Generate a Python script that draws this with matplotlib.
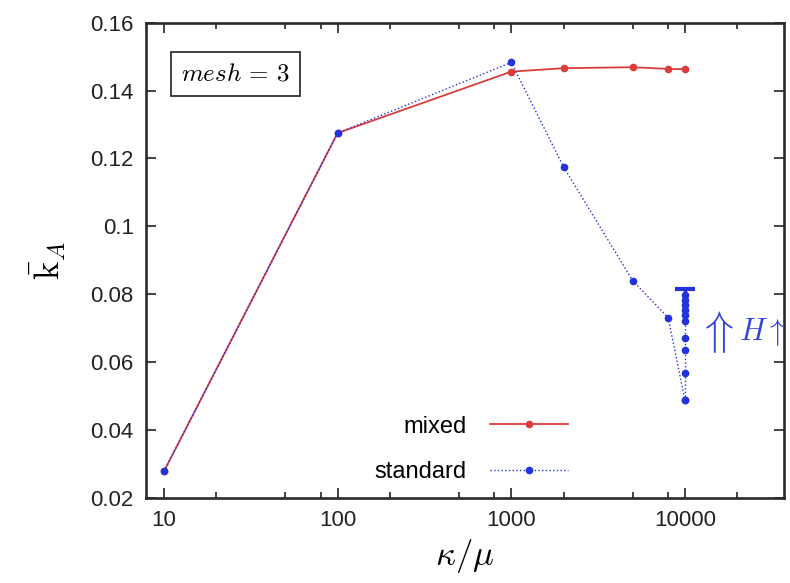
import numpy as np
import matplotlib.pyplot as plt
from matplotlib.ticker import FixedLocator, NullFormatter

plt.rcParams['font.family'] = ['Liberation Sans', 'DejaVu Sans']
plt.rcParams['mathtext.fontset'] = 'cm'

# dane
ratio = [10, 100, 1000, 2000, 5000, 8000, 10000]
k_mixed = [0.0278, 0.1275, 0.1456, 0.1466, 0.1469, 0.1464, 0.1463]
k_standard = [0.0278, 0.1275, 0.1483, 0.1175, 0.0840, 0.0731, 0.0487]

# punkty dla rosnacego H przy kappa/mu = 10000
h_ratio = [10000] * 10
k_h = [0.0487, 0.0567, 0.0636, 0.0671, 0.0720, 0.0739, 0.0754, 0.0769, 0.0784, 0.0798]
k_h_limit = 0.0816

major_ticks = [10, 100, 1000, 10000]
minor_ticks = [20, 50, 80, 200, 500, 800, 2000, 5000, 8000, 20000]
y_ticks = [0.02, 0.04, 0.06, 0.08, 0.1, 0.12, 0.14, 0.16]
y_labels = ['0.02', '0.04', '0.06', '0.08', '0.1', '0.12', '0.14', '0.16']

red = '#dc3c3c'
blue = '#2233dd'

fig = plt.figure(figsize=(7.9, 5.83), dpi=100)
ax = fig.add_axes([0.185, 0.146, 0.807, 0.815])

ax.plot(ratio, k_mixed, '-', color=red, lw=1.3, marker='o', ms=4.5, label='mixed')
ax.plot(ratio, k_standard, ':', color=blue, lw=1.0, marker='o', ms=4.5, label='standard')
ax.plot(h_ratio, k_h, ':', color=blue, lw=1.0, marker='o', ms=4.5)
ax.plot([10000], [k_h_limit], marker='_', ms=14, mew=3, color=blue, ls='none')
ax.vlines(10000, k_h[-1], k_h_limit, color=blue, lw=2.5)

ax.set_xscale('log')
ax.set_xlim(7.9, 37000)
ax.set_ylim(0.02, 0.16)
ax.xaxis.set_major_locator(FixedLocator(major_ticks))
ax.xaxis.set_minor_locator(FixedLocator(minor_ticks))
ax.xaxis.set_minor_formatter(NullFormatter())
ax.set_xticklabels([str(t) for t in major_ticks])
ax.set_yticks(y_ticks)
ax.set_yticklabels(y_labels)
ax.tick_params(which='both', direction='in', top=True, right=True,
               labelsize=16, colors='#222222', width=1.2)
ax.tick_params(which='major', length=7, pad=9)
ax.tick_params(which='minor', length=4)
for s in ax.spines.values():
    s.set_linewidth(1.9)
    s.set_color('#2a2a2a')

ax.set_xlabel(r'$\kappa/\mu$', fontsize=25, labelpad=4)
ax.set_ylabel(r'$\bar{\mathrm{k}}_A$', fontsize=25, labelpad=16)

ax.text(0.055, 0.893, r'$mesh\,=\,3$', transform=ax.transAxes, fontsize=18,
        va='center', ha='left',
        bbox=dict(boxstyle='square,pad=0.4', fc='white', ec='#333333', lw=1.3))

ax.text(14800, 0.0689, r'$\Uparrow$', color='#3344dd', fontsize=34,
        ha='center', va='center')
ax.text(20500, 0.0689, r'$H\uparrow$', color='#3344dd', fontsize=22,
        ha='left', va='center', clip_on=True)

leg = ax.legend(loc='upper right', bbox_to_anchor=(0.68, 0.198), frameon=False,
                markerfirst=False, fontsize=17, handlelength=3.3,
                labelspacing=1.0, borderpad=0, handletextpad=1.0)
leg._legend_box._children[1]._children[0].align = 'right'

fig.savefig('out.png', dpi=100)
